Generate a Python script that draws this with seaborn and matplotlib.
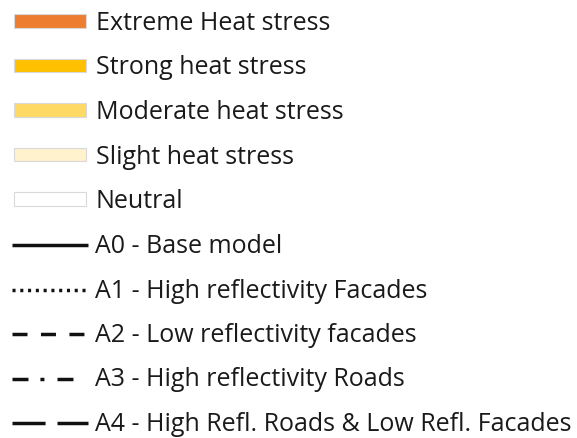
import seaborn as sns
import matplotlib.pyplot as plt
from matplotlib.patches import Patch
from matplotlib.lines import Line2D

# heat stress classes (filled swatches)
stress_labels = ["Extreme Heat stress", "Strong heat stress", "Moderate heat stress",
                 "Slight heat stress", "Neutral"]
stress_colors = ["#ED7D31", "#FFC000", "#FFD966", "#FFF2CC", "#FFFFFF"]

# scenarios (black lines with dash patterns, in points)
scenario_labels = ["A0 - Base model", "A1 - High reflectivity Facades",
                   "A2 - Low reflectivity facades", "A3 - High reflectivity Roads",
                   "A4 - High Refl. Roads & Low Refl. Facades"]
scenario_dashes = [None, (2.2, 3.4), (10.8, 9.7), (11.5, 8.6, 2.9, 9.4, 11.5, 20), (23.8, 8.6)]

sns.set_theme(style="white")
plt.rcParams["font.family"] = ["Open Sans", "DejaVu Sans"]
plt.rcParams["lines.scale_dashes"] = False

FS = 18.0
PX = FS / 0.72  # font size in pixels
W, H = 577, 438
fig = plt.figure(figsize=(W / 100, H / 100), dpi=100)
fig.patch.set_facecolor("white")

patch_handles = [Patch(facecolor=c, edgecolor="#d9d9d9", linewidth=0.8) for c in stress_colors]
line_handles = []
for d in scenario_dashes:
    h = Line2D([], [], color="#111111", linewidth=2.5, solid_capstyle="butt", dash_capstyle="butt")
    if d is not None:
        h.set_dashes(d)
    line_handles.append(h)

common = dict(loc="upper left", frameon=False, fontsize=FS, borderpad=0,
              borderaxespad=0, labelcolor="#1a1a1a", labelspacing=0.78)

leg1 = fig.legend(patch_handles, stress_labels, bbox_to_anchor=(14 / W, 1 - 11 / H),
                  handlelength=72 / PX, handleheight=0.47,
                  handletextpad=10 / PX, **common)
leg2 = fig.legend(line_handles, scenario_labels, bbox_to_anchor=(12 / W, 1 - 234 / H),
                  handlelength=76 / PX, handleheight=0.47,
                  handletextpad=7 / PX, **common)

fig.savefig("out.png", dpi=100, facecolor="white")
